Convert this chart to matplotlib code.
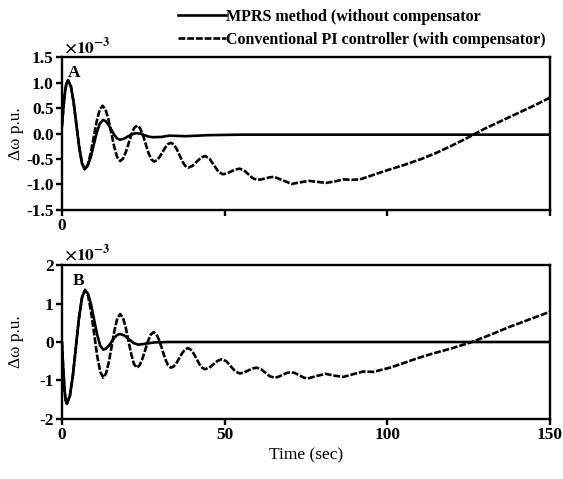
import matplotlib
matplotlib.use('Agg')
import matplotlib.pyplot as plt

plt.rcParams['font.family'] = ['Liberation Serif', 'DejaVu Serif']
plt.rcParams['font.weight'] = 'bold'
plt.rcParams['mathtext.fontset'] = 'stix'
plt.rcParams['axes.unicode_minus'] = False

# panel A, values in 1e-3 p.u.
t_pi_a = [0, 0.5, 1.0, 1.4, 1.9, 2.75, 3.6, 4.45, 5.3, 6.15, 7.0,
          7.92, 8.83, 9.75, 10.67, 11.58, 12.5, 13.4, 14.3, 15.2, 16.1, 17.0, 17.9,
          18.77, 19.63, 20.5, 21.37, 22.23, 23.1, 23.97, 24.83, 25.7, 26.57, 27.43, 28.3,
          29.17, 30.03, 30.9, 31.77, 32.63, 33.5, 34.38, 35.27, 36.15, 37.03, 37.92, 38.8,
          40.1, 41.4, 42.7, 44.0, 45.35, 46.7, 48.05, 49.4, 50.7, 52.0, 53.3, 54.6, 55.95,
          57.3, 58.65, 60.0, 61.3, 62.6, 63.9, 65.2, 67.9, 70.6, 73.2, 75.8, 78.5, 81.2,
          84.0, 86.5, 89.0, 91.6, 94.0, 96.7, 100, 105, 110, 115, 120, 125, 130, 135, 140,
          145, 150]
pi_a = [0.15, 0.55, 0.85, 0.99, 1.05, 0.933, 0.613, 0.175, -0.263, -0.583, -0.70,
        -0.616, -0.388, -0.075, 0.238, 0.466, 0.55, 0.477, 0.278, 0.005, -0.268, -0.467, -0.54,
        -0.493, -0.365, -0.19, -0.015, 0.113, 0.16, 0.112, -0.018, -0.195, -0.373, -0.502,
        -0.55, -0.525, -0.458, -0.365, -0.273, -0.205, -0.18, -0.213, -0.303, -0.425, -0.548,
        -0.637, -0.67, -0.636, -0.555, -0.474, -0.44, -0.493, -0.62, -0.747, -0.80, -0.784,
        -0.745, -0.706, -0.69, -0.722, -0.80, -0.878, -0.91, -0.90, -0.88, -0.86, -0.85,
        -0.92, -0.99, -0.96, -0.93, -0.95, -0.97, -0.94, -0.90, -0.91, -0.90, -0.85, -0.79,
        -0.72, -0.62, -0.51, -0.38, -0.23, -0.07, 0.10, 0.25, 0.40, 0.55, 0.71]
t_mprs_a = [0, 0.5, 1.0, 1.4, 1.9, 2.75, 3.6, 4.45, 5.3, 6.15, 7.0, 7.93, 8.87, 9.8, 10.73,
            11.67, 12.6, 13.47, 14.33, 15.2, 16.07, 16.93, 17.8, 19.05, 20.3, 21.55, 22.8,
            24.1, 25.4, 26.7, 28.0, 30.5, 33.0, 38.0, 45.0, 55.0, 150]
mprs_a = [0.15, 0.55, 0.85, 0.99, 1.05, 0.933, 0.613, 0.175, -0.263, -0.583, -0.70, -0.635,
          -0.458, -0.215, 0.028, 0.20, 0.27, 0.244, 0.173, 0.075, -0.023, -0.094, -0.12,
          -0.10, -0.055, -0.01, 0.01, 0.0, -0.03, -0.06, -0.07, -0.065, -0.04, -0.05, -0.03,
          -0.02, -0.02]

# panel B
t_pi_b = [0, 0.4, 0.8, 1.15, 1.5, 2.43, 3.37, 4.3, 5.23, 6.17, 7.1, 8.03, 8.97, 9.9, 10.83,
          11.77, 12.7, 13.57, 14.43, 15.3, 16.17, 17.03, 17.9, 18.75, 19.6, 20.45, 21.3,
          22.15, 23.0, 23.87, 24.73, 25.6, 26.47, 27.33, 28.2, 29.08, 29.97, 30.85, 31.73,
          32.62, 33.5, 34.37, 35.23, 36.1, 36.97, 37.83, 38.7, 39.58, 40.47, 41.35, 42.23,
          43.12, 44.0, 45.3, 46.6, 47.9, 49.2, 50.55, 51.9, 53.25, 54.6, 55.9, 57.2, 58.5,
          59.8, 61.15, 62.5, 63.85, 65.2, 66.5, 67.75, 69.0, 70.3, 71.6, 73.0, 74.3, 75.6,
          78.2, 81.0, 83.8, 86.5, 89.5, 92.6, 95.7, 98, 100.8, 105, 109, 114, 120, 126, 132,
          137.7, 144, 150]
pi_b = [0.0, -0.7, -1.25, -1.52, -1.61, -1.411, -0.868, -0.125, 0.618, 1.161, 1.36, 1.207,
        0.788, 0.215, -0.358, -0.777, -0.93, -0.819, -0.515, -0.10, 0.315, 0.619, 0.73,
        0.636, 0.38, 0.03, -0.32, -0.576, -0.67, -0.608, -0.438, -0.205, 0.028, 0.198, 0.26,
        0.198, 0.028, -0.205, -0.438, -0.608, -0.67, -0.636, -0.543, -0.415, -0.288, -0.194,
        -0.16, -0.197, -0.298, -0.435, -0.573, -0.673, -0.71, -0.672, -0.58, -0.488, -0.45,
        -0.504, -0.635, -0.766, -0.82, -0.798, -0.745, -0.692, -0.67, -0.708, -0.80, -0.892,
        -0.93, -0.91, -0.86, -0.81, -0.79, -0.81, -0.87, -0.93, -0.95, -0.89, -0.83, -0.88,
        -0.91, -0.84, -0.77, -0.78, -0.73, -0.67, -0.55, -0.43, -0.30, -0.16, 0.0, 0.20,
        0.40, 0.60, 0.79]
t_mprs_b = [0, 0.4, 0.8, 1.15, 1.5, 2.43, 3.37, 4.3, 5.23, 6.17, 7.1, 8.03, 8.97, 9.9, 10.83,
            11.77, 12.7, 13.55, 14.4, 15.25, 16.1, 16.95, 17.8, 19.2, 20.65, 22.05, 23.5,
            26.0, 28.5, 33.0, 150]
mprs_b = [0.0, -0.7, -1.25, -1.52, -1.61, -1.411, -0.868, -0.125, 0.618, 1.161, 1.36, 1.256,
          0.97, 0.58, 0.19, -0.096, -0.20, -0.173, -0.098, 0.005, 0.108, 0.183, 0.21, 0.169,
          0.07, -0.029, -0.07, -0.04, -0.01, 0.0, 0.0]

xticks = [0, 50, 100, 150]
yticks_a = [-1.5, -1.0, -0.5, 0.0, 0.5, 1.0, 1.5]
yticks_b = [-2, -1, 0, 1, 2]

fs = 12.5
fig = plt.figure(figsize=(5.63, 4.79), dpi=100)
ax1 = fig.add_axes([0.110, 0.562, 0.867, 0.318])
ax2 = fig.add_axes([0.110, 0.126, 0.867, 0.320])

dash = (0, (2.6, 0.7))
for ax, tm, m, tp, p in [(ax1, t_mprs_a, mprs_a, t_pi_a, pi_a),
                         (ax2, t_mprs_b, mprs_b, t_pi_b, pi_b)]:
    ax.plot(tm, m, color='black', lw=1.9, label='MPRS method (without compensator')
    ax.plot(tp, p, color='black', lw=1.9, linestyle=dash,
            label='Conventional PI controller (with compensator)')
    ax.set_xlim(0, 150)
    ax.set_xticks(xticks)
    for s in ax.spines.values():
        s.set_linewidth(1.7)
    ax.tick_params(direction='out', width=1.7, length=4, labelsize=fs, pad=2)
    ax.set_ylabel('Δω p.u.', fontsize=fs)
    ax.text(0.004, 1.005, r'$\mathbf{\times10^{-3}}$', transform=ax.transAxes, fontsize=fs,
            ha='left', va='bottom')

ax1.set_ylim(-1.5, 1.5)
ax1.set_yticks(yticks_a)
ax1.set_yticklabels([f'{v:.1f}' for v in yticks_a])
ax1.set_xticklabels(['0', '', '', ''])
ax1.text(0.012, 0.95, 'A', transform=ax1.transAxes, fontsize=fs, va='top')

ax2.set_ylim(-2, 2)
ax2.set_yticks(yticks_b)
ax2.set_yticklabels([str(v) for v in yticks_b])
ax2.set_xlabel('Time (sec)', fontsize=fs, labelpad=3)
ax2.text(0.022, 0.95, 'B', transform=ax2.transAxes, fontsize=fs, va='top')

for ax in (ax1, ax2):
    ax.yaxis.set_label_coords(-0.078, 0.5)

h, l = ax1.get_legend_handles_labels()
fig.legend(h, l, loc='upper left', bbox_to_anchor=(0.29, 1.012), frameon=False,
           fontsize=11.5, handlelength=3.0, handletextpad=0.05, labelspacing=0.45)

fig.savefig('out.png', dpi=100)
